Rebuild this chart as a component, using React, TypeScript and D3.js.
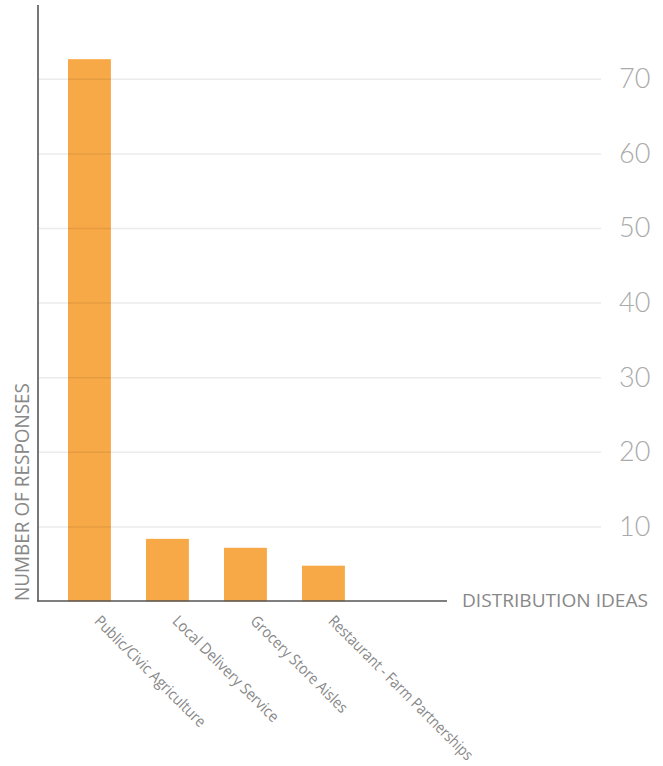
import React from "react";
import * as d3 from "d3";

const categories = [
  "Public/Civic Agriculture",
  "Local Delivery Service",
  "Grocery Store Aisles",
  "Restaurant - Farm Partnerships",
];
const values = [72.7, 8.4, 7.2, 4.8];
const yTicks = [10, 20, 30, 40, 50, 60, 70];
const yTitle = "NUMBER OF RESPONSES";
const xTitle = "DISTRIBUTION IDEAS";
const labelLengths = [150, 143, 130, 197];

export default function App() {
  const W = 663;
  const H = 766;
  const axisX = 38;
  const zeroY = 601.5;
  const y = d3.scaleLinear().domain([0, 70]).range([zeroY, 79.3]);
  const step = 78;
  const pin = 0.45;
  const x = d3
    .scaleBand<string>()
    .domain(categories)
    .range([68, 68 + step * (categories.length - pin)])
    .paddingInner(pin)
    .paddingOuter(0);
  const font = "'Open Sans', sans-serif";
  return (
    <svg
      width={W}
      height={H}
      style={{ position: "absolute", left: 0, top: 0, background: "#fff" }}
    >
      {categories.map((c, i) => (
        <rect
          key={c}
          x={x(c)}
          y={y(values[i])}
          width={x.bandwidth()}
          height={zeroY - y(values[i])}
          fill="#f8a947"
        />
      ))}
      {yTicks.map((t) => (
        <g key={t}>
          <line
            x1={axisX}
            x2={601}
            y1={y(t)}
            y2={y(t)}
            stroke="rgba(0,0,0,0.08)"
            strokeWidth={1.5}
          />
          <text
            x={619}
            y={y(t)}
            dy="0.33em"
            fontFamily="Lato, 'Open Sans', sans-serif"
            fontWeight={300}
            fontSize={27}
            fill="#aaaaaa"
          >
            {t}
          </text>
        </g>
      ))}
      <line x1={axisX} x2={axisX} y1={5} y2={zeroY} stroke="#555" strokeWidth={1.6} />
      <line x1={axisX - 0.8} x2={447} y1={zeroY - 0.5} y2={zeroY - 0.5} stroke="#555" strokeWidth={1.6} />
      <text
        x={462}
        y={607}
        fontFamily={font}
        fontSize={19}
        textLength={186}
        lengthAdjust="spacingAndGlyphs"
        fill="#888"
      >
        {xTitle}
      </text>
      <text
        transform={`translate(28.5, 601) rotate(-90)`}
        fontFamily={font}
        fontSize={20}
        textLength={218}
        lengthAdjust="spacingAndGlyphs"
        fill="#888"
      >
        {yTitle}
      </text>
      {categories.map((c, i) => (
        <text
          key={c}
          transform={`translate(${(x(c) as number) + x.bandwidth() / 2 + 4}, 622) rotate(45)`}
          fontFamily={font}
          fontSize={15.5}
          textLength={labelLengths[i]}
          lengthAdjust="spacingAndGlyphs"
          fill="#888"
        >
          {c}
        </text>
      ))}
    </svg>
  );
}
